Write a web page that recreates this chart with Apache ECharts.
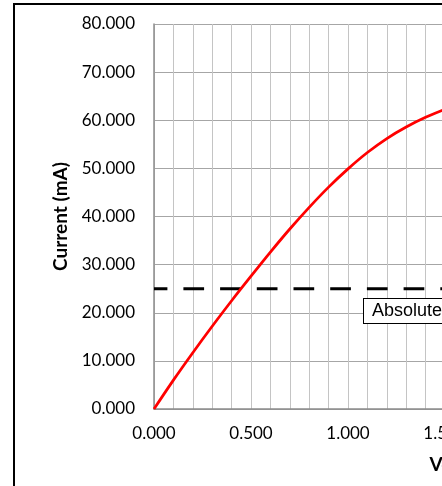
<!DOCTYPE html>
<html>
<head>
<meta charset="utf-8">
<script src="https://cdn.jsdelivr.net/npm/echarts@6/dist/echarts.min.js"></script>
<style>
html,body{margin:0;padding:0;width:442px;height:486px;overflow:hidden;background:#fff;}
#chart{position:absolute;left:0;top:0;width:800px;height:486px;}
#frame{position:absolute;left:13px;top:3px;width:900px;height:700px;border:2px solid #000;pointer-events:none;}
</style>
</head>
<body>
<div id="chart"></div>
<div id="frame"></div>
<script>
// 数据
var voltage = [0, 0.1, 0.2, 0.3, 0.4, 0.5, 0.6, 0.7, 0.8, 0.9, 1.0, 1.1, 1.2, 1.3, 1.4, 1.5, 1.6];
var current = [0, 6.0, 11.7, 17.2, 22.5, 27.6, 32.6, 37.4, 41.9, 46.1, 49.9, 53.3, 56.2, 58.6, 60.6, 62.3, 63.7];
var limitValue = 25;
var limitLabel = 'Absolute Maximum Rating';
var xTicks = [0, 0.5, 1.0, 1.5, 2.0, 2.5];
var yTicks = [0, 10, 20, 30, 40, 50, 60, 70, 80];

var myChart = echarts.init(document.getElementById('chart'));
var curveData = voltage.map(function(v, i){ return [v, current[i]]; });
var limitData = [[xTicks[0], limitValue], [xTicks[xTicks.length-1], limitValue]];
var option = {
	animation: false,
	backgroundColor: '#fff',
	grid: {
		left: 154,
		top: 24,
		bottom: 77,
		right: 161
	},
	xAxis: {
		type: 'value',
		min: xTicks[0],
		max: xTicks[xTicks.length-1],
		interval: 0.5,
		name: 'Voltage (V)',
		nameLocation: 'middle',
		nameGap: 46,
		nameTextStyle: {
			fontFamily: 'Lato',
			fontWeight: 'bold',
			fontSize: 19,
			color: '#000',
			align: 'left',
			padding: [0, 0, 0, 33]
		},
		axisLine: { lineStyle: { color: '#8c8c8c', width: 1.5 } },
		axisTick: { show: false },
		axisLabel: {
			margin: 16,
			fontFamily: 'Lato',
			fontSize: 17,
			color: '#000',
			formatter: function(v){ return v.toFixed(3); }
		},
		splitLine: { show: true, lineStyle: { color: '#c4c4c4', width: 1 } },
		minorTick: { show: false, splitNumber: 5 },
		minorSplitLine: { show: true, lineStyle: { color: '#c4c4c4', width: 1 } }
	},
	yAxis: {
		type: 'value',
		min: yTicks[0],
		max: yTicks[yTicks.length-1],
		interval: 10,
		name: 'Current (mA)',
		nameLocation: 'middle',
		nameGap: 83,
		nameTextStyle: {
			fontFamily: 'Lato',
			fontWeight: 'bold',
			fontSize: 19,
			color: '#000'
		},
		axisLine: { show: true, lineStyle: { color: '#8c8c8c', width: 1.5 } },
		axisTick: { show: false },
		axisLabel: {
			margin: 19,
			fontFamily: 'Lato',
			fontSize: 17,
			color: '#000',
			formatter: function(v){ return v.toFixed(3); }
		},
		splitLine: { show: true, lineStyle: { color: '#a6a6a6', width: 1 } }
	},
	series: [
		{
			name: 'limit',
			type: 'line',
			data: limitData,
			symbol: 'none',
			lineStyle: {
				color: '#000',
				width: 3,
				type: [20.7, 16],
				dashOffset: 7.3
			},
			z: 2
		},
		{
			name: 'current',
			type: 'line',
			data: curveData,
			symbol: 'none',
			smooth: 0.3,
			lineStyle: { color: '#ff0000', width: 2.75, join: 'round' },
			z: 3
		}
	],
	graphic: [
		{
			type: 'text',
			left: 363,
			top: 298,
			z: 10,
			style: {
				text: limitLabel,
				font: '18px "Liberation Sans"',
				fill: '#000',
				backgroundColor: '#fff',
				borderColor: '#000',
				borderWidth: 1,
				padding: [3, 8, 3, 8]
			}
		}
	]
};
myChart.setOption(option);
</script>
</body>
</html>
